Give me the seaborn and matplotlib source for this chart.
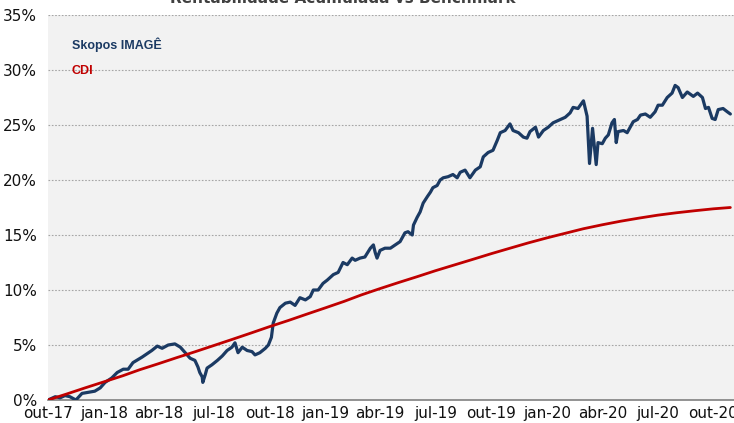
import numpy as np
import pandas as pd
import matplotlib
matplotlib.use("Agg")
import matplotlib.pyplot as plt
import matplotlib.dates as mdates
from matplotlib.ticker import PercentFormatter, MultipleLocator
import seaborn as sns

# ---------------- data ----------------
start_date = "2017-10-01"

# Skopos IMAGÊ: days since start, accumulated return (%)
skopos_days = [0, 12, 20, 28, 36, 46, 56, 66, 77, 86, 94, 105, 114, 124, 132, 140, 155, 163, 171,
               180, 188, 198, 209, 218, 226, 234, 242, 247, 250, 254, 255, 259, 262, 270, 279, 287,
               295, 303, 308, 313, 320, 328, 336, 341, 349, 358, 363, 368, 371, 377, 382, 391, 399,
               407, 415, 424, 432, 437, 445, 453, 460, 470, 478, 486, 493, 501, 506, 514, 522, 531,
               536, 539, 542, 547, 555, 564, 572, 580, 588, 593, 600, 602, 608, 613, 618, 625, 630,
               634, 641, 646, 651, 659, 667, 674, 679, 687, 695, 704, 712, 717, 725, 733, 740, 745,
               753, 761, 766, 775, 783, 789, 794, 803, 808, 816, 824, 832, 844, 852, 860, 865, 873,
               882, 888, 892, 897, 900, 903, 906, 913, 918, 923, 929, 933, 936, 939, 948, 954, 959,
               964, 971, 976, 984, 992, 1000, 1005, 1012, 1020, 1028, 1033, 1038, 1045, 1053, 1058,
               1063, 1070, 1078, 1083, 1088, 1094, 1099, 1104, 1112, 1119, 1124]
skopos_values = [0.0, 0.3, 0.2, 0.4, 0.3, 0.0, 0.6, 0.7, 0.8, 1.1, 1.6, 2.0, 2.5, 2.8, 2.8, 3.4, 3.9,
                 4.2, 4.5, 4.9, 4.7, 5.0, 5.1, 4.8, 4.3, 3.8, 3.6, 3.0, 2.5, 2.1, 1.6, 2.3, 2.9, 3.2,
                 3.6, 4.0, 4.5, 4.8, 5.2, 4.3, 4.8, 4.5, 4.4, 4.1, 4.3, 4.7, 5.0, 5.7, 7.0, 7.9, 8.4,
                 8.8, 8.9, 8.6, 9.3, 9.1, 9.4, 10.0, 10.0, 10.6, 10.9, 11.4, 11.6, 12.5, 12.3, 12.9,
                 12.7, 12.9, 13.0, 13.8, 14.1, 13.4, 12.9, 13.6, 13.8, 13.8, 14.1, 14.4, 15.2, 15.3,
                 15.0, 15.9, 16.6, 17.1, 17.9, 18.5, 18.9, 19.3, 19.5, 20.0, 20.2, 20.3, 20.5, 20.2,
                 20.7, 20.9, 20.2, 20.9, 21.2, 22.1, 22.5, 22.7, 23.6, 24.3, 24.5, 25.1, 24.5, 24.3,
                 23.9, 23.8, 24.4, 24.8, 23.9, 24.5, 24.8, 25.2, 25.5, 25.7, 26.1, 26.6, 26.5, 27.2,
                 25.8, 21.5, 24.7, 23.0, 21.4, 23.4, 23.3, 23.8, 24.1, 25.2, 25.5, 23.4, 24.4, 24.5,
                 24.3, 24.8, 25.3, 25.5, 25.9, 26.0, 25.7, 26.2, 26.8, 26.8, 27.5, 27.9, 28.6, 28.4,
                 27.5, 28.0, 27.8, 27.6, 27.9, 27.5, 26.5, 26.6, 25.6, 25.5, 26.4, 26.5, 26.2, 26.0]

# CDI: monthly accumulated (%)
cdi_dates = ["2017-10-01", "2017-11-01", "2017-12-01", "2018-01-01", "2018-02-01", "2018-03-01",
             "2018-04-01", "2018-05-01", "2018-06-01", "2018-07-01", "2018-08-01", "2018-09-01",
             "2018-10-01", "2018-11-01", "2018-12-01", "2019-01-01", "2019-02-01", "2019-03-01",
             "2019-04-01", "2019-05-01", "2019-06-01", "2019-07-01", "2019-08-01", "2019-09-01",
             "2019-10-01", "2019-11-01", "2019-12-01", "2020-01-01", "2020-02-01", "2020-03-01",
             "2020-04-01", "2020-05-01", "2020-06-01", "2020-07-01", "2020-08-01", "2020-09-01",
             "2020-10-01", "2020-10-29"]
cdi_values = [0.00, 0.55, 1.10, 1.65, 2.20, 2.75, 3.30, 3.85, 4.40, 4.95, 5.52, 6.10, 6.67, 7.23,
              7.80, 8.38, 8.97, 9.55, 10.13, 10.67, 11.21, 11.75, 12.27, 12.79, 13.30, 13.80,
              14.28, 14.74, 15.17, 15.57, 15.93, 16.25, 16.54, 16.80, 17.02, 17.21, 17.38, 17.50]

tick_labels = ["out-17", "jan-18", "abr-18", "jul-18", "out-18", "jan-19", "abr-19",
               "jul-19", "out-19", "jan-20", "abr-20", "jul-20", "out-20"]
title_text = "Rentabilidade Acumulada vs Benchmark"
series_names = ["Skopos IMAGÊ", "CDI"]

# ---------------- frames ----------------
sk = pd.DataFrame({
    "date": pd.Timestamp(start_date) + pd.to_timedelta(skopos_days, unit="D"),
    "value": skopos_values,
})
cd = pd.DataFrame({"date": pd.to_datetime(cdi_dates), "value": cdi_values})

# ---------------- plot ----------------
sns.set_theme(style="white")
plt.rcParams["font.family"] = ["DejaVu Sans"]

W, H = 734, 423
fig = plt.figure(figsize=(W / 100, H / 100), dpi=100)
ax = fig.add_axes([48 / W, 1 - 400 / H, (W - 48) / W, 385 / H])
ax.set_facecolor("#F2F2F2")

navy = "#1B3A63"
red = "#C00000"

sns.lineplot(data=sk, x="date", y="value", ax=ax, color=navy, linewidth=2.3, zorder=3)
sns.lineplot(data=cd, x="date", y="value", ax=ax, color=red, linewidth=2.0, zorder=4)

ax.set_ylim(0, 35)
ax.yaxis.set_major_locator(MultipleLocator(5))
ax.yaxis.set_major_formatter(PercentFormatter(decimals=0))
ax.set_xlim(pd.Timestamp("2017-10-01"), pd.Timestamp("2020-11-04"))
tick_dates = pd.date_range("2017-10-01", "2020-10-01", freq="3MS")
ax.set_xticks(tick_dates)
ax.set_xticklabels(tick_labels)

ax.grid(axis="y", color="#A6A6A6", linestyle=(0, (1.5, 1.5)), linewidth=0.8)
ax.grid(axis="x", visible=False)
for s in ["top", "right", "left"]:
    ax.spines[s].set_visible(False)
ax.spines["bottom"].set_color("#808080")
ax.spines["bottom"].set_linewidth(1.2)
ax.tick_params(axis="both", length=0, labelsize=11, colors="#111111")
ax.tick_params(axis="y", pad=8)
ax.tick_params(axis="x", pad=4)
ax.set_xlabel("")
ax.set_ylabel("")

ax.text((72 - 48) / (W - 48), (400 - 45) / 385, series_names[0], transform=ax.transAxes,
        color=navy, fontsize=9, fontweight="bold", family="Liberation Sans", va="center", ha="left")
ax.text((72 - 48) / (W - 48), (400 - 71) / 385, series_names[1], transform=ax.transAxes,
        color=red, fontsize=9, fontweight="bold", family="Liberation Sans", va="center", ha="left")

fig.text(343 / W, 1 - 3 / H, title_text, ha="center", va="baseline", fontsize=11,
         fontweight="bold", color="#404040")

fig.savefig("out.png", dpi=100)
